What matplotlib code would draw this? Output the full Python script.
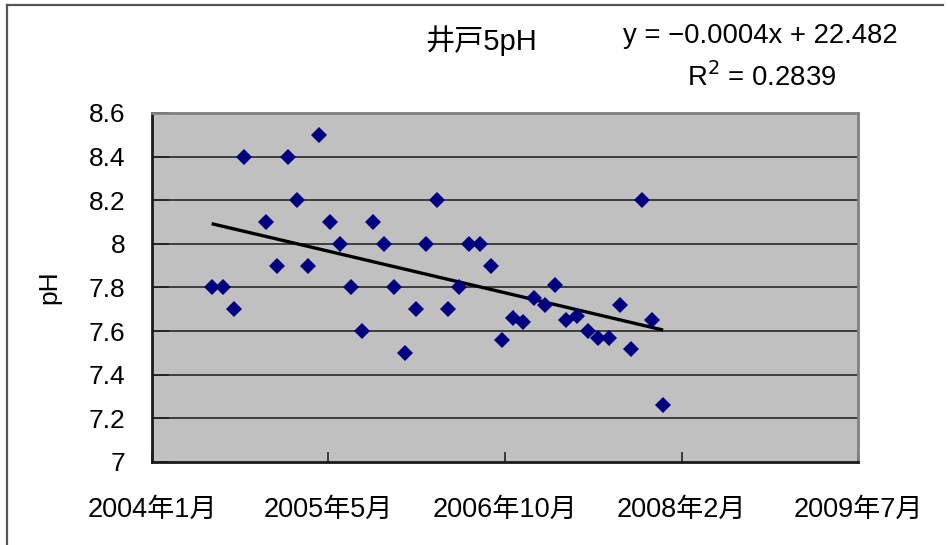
import datetime as dt

import matplotlib
matplotlib.use("Agg")
import matplotlib.pyplot as plt
import matplotlib.dates as mdates
from matplotlib.lines import Line2D
import numpy as np

plt.rcParams["font.family"] = ["Liberation Sans", "Noto Sans CJK JP", "DejaVu Sans"]

# Monthly sampling dates (year-month) and measured pH of well No.5
sample_months = [
    "2004-07", "2004-08", "2004-09", "2004-10", "2004-12",
    "2005-01", "2005-02", "2005-03", "2005-04", "2005-05", "2005-06",
    "2005-07", "2005-08", "2005-09", "2005-10", "2005-11", "2005-12",
    "2006-01", "2006-02", "2006-03", "2006-04", "2006-05", "2006-06",
    "2006-07", "2006-08", "2006-09", "2006-10", "2006-11", "2006-12",
    "2007-01", "2007-02", "2007-03", "2007-04", "2007-05", "2007-06",
    "2007-07", "2007-08", "2007-09", "2007-10", "2007-11", "2007-12",
    "2008-01",
]
ph_values = [
    7.80, 7.80, 7.70, 8.40, 8.10,
    7.90, 8.40, 8.20, 7.90, 8.50, 8.10,
    8.00, 7.80, 7.60, 8.10, 8.00, 7.80,
    7.50, 7.70, 8.00, 8.20, 7.70, 7.80,
    8.00, 8.00, 7.90, 7.56, 7.66, 7.64,
    7.75, 7.72, 7.81, 7.65, 7.67, 7.60,
    7.57, 7.57, 7.72, 7.52, 8.20, 7.65,
    7.26,
]

title_text = "井戸5pH"
equation_text = "y = −0.0004x + 22.482"
r2_text = "R$^2$ = 0.2839"
y_label = "pH"

# x axis runs on a 500-day grid, like a spreadsheet date-serial axis
x_start = dt.date(2004, 1, 14)
x_step_days = 500
n_x_ticks = 5
y_ticks = [7.0, 7.2, 7.4, 7.6, 7.8, 8.0, 8.2, 8.4, 8.6]
y_tick_labels = ["7", "7.2", "7.4", "7.6", "7.8", "8", "8.2", "8.4", "8.6"]

dates = [dt.datetime.strptime(m + "-01", "%Y-%m-%d") for m in sample_months]
xnum = mdates.date2num(dates)
ph = np.array(ph_values)

fig = plt.figure(figsize=(9.48, 5.45), dpi=100)
ax = fig.add_axes([0.1603, 0.1523, 0.7448, 0.6404])
ax.set_facecolor("#c0c0c0")

x_tick_dates = [x_start + dt.timedelta(days=x_step_days * i) for i in range(n_x_ticks)]
x_tick_nums = mdates.date2num(x_tick_dates)
ax.set_xlim(x_tick_nums[0], x_tick_nums[-1])
ax.set_ylim(y_ticks[0], y_ticks[-1])

# horizontal gridlines
for yv in y_ticks[1:-1]:
    ax.axhline(yv, color="#1a1a1a", lw=1.1, zorder=1)

# linear trendline fitted to the data
coef = np.polyfit(xnum, ph, 1)
tx = np.array([xnum.min(), xnum.max()])
ax.plot(tx, np.polyval(coef, tx), color="black", lw=2.4, zorder=3, solid_capstyle="butt")

ax.plot(xnum, ph, linestyle="none", marker="D", ms=8.6, color="#000080",
        markeredgewidth=0, zorder=4)

ax.set_xticks(x_tick_nums)
ax.set_xticklabels([f"{d.year}年{d.month}月" for d in x_tick_dates], fontsize=19.5)
ax.set_yticks(y_ticks)
ax.set_yticklabels(y_tick_labels, fontsize=19)
ax.tick_params(axis="x", direction="in", length=7, width=1.2, pad=25, color="#222222")
ax.tick_params(axis="y", direction="in", length=12, width=1.2, pad=19, color="#222222")

for side in ("left", "bottom"):
    ax.spines[side].set_color("#1a1a1a")
    ax.spines[side].set_linewidth(2.0)
for side in ("top", "right"):
    ax.spines[side].set_color("#808080")
    ax.spines[side].set_linewidth(2.0)

ax.set_ylabel(y_label, fontsize=19, labelpad=20)

# chart titles and trendline equation
fig.text(0.507, 0.926, title_text, fontsize=21, ha="center", va="center")
fig.text(0.802, 0.934, equation_text, fontsize=19.8, ha="center", va="center")
fig.text(0.803, 0.858, r2_text, fontsize=19.8, ha="center", va="center")

# outer chart-area frame
fig.add_artist(Line2D([7 / 948, 943 / 948], [1 - 5 / 545, 1 - 5 / 545],
                      transform=fig.transFigure, color="#555555", lw=1.6))
fig.add_artist(Line2D([7 / 948, 7 / 948], [0, 1 - 5 / 545],
                      transform=fig.transFigure, color="#555555", lw=1.6))

fig.savefig("out.png", dpi=100)
